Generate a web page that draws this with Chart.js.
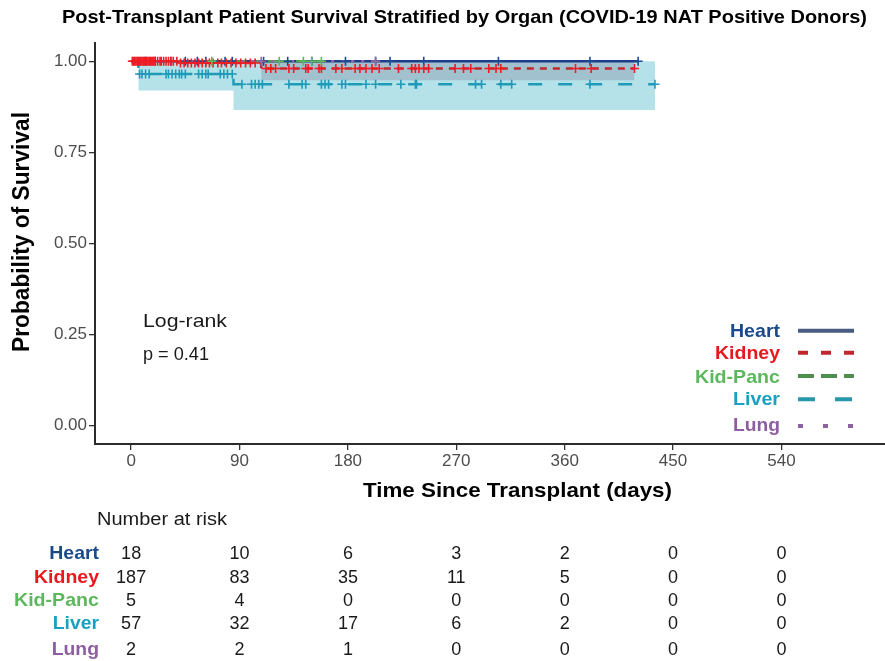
<!DOCTYPE html>
<html>
<head>
<meta charset="utf-8">
<script src="https://cdn.jsdelivr.net/npm/chart.js@4.4.1/dist/chart.umd.min.js"></script>
<style>
    html, body { margin: 0; padding: 0; background: #fff; }
    #wrap { width: 885px; height: 661px; }
</style>
</head>
<body>
<div id="wrap"><canvas id="kmChart" width="885" height="661"></canvas></div>
<script>
// Axis ticks
const timeTicks = [0, 90, 180, 270, 360, 450, 540];
const survTicks = [0, 0.25, 0.5, 0.75, 1];

// Kaplan-Meier steps (time in days, survival after the step)
const heartTime = [0, 421];
const heartSurv = [1, 1];
const kidneyTime = [0, 40, 108, 418];
const kidneySurv = [1, 0.995, 0.98, 0.98];
const kidPancTime = [0, 158];
const kidPancSurv = [1, 1];
const liverTime = [0, 6, 85, 435];
const liverSurv = [1, 0.965, 0.937, 0.937];
const lungTime = [0, 203];
const lungSurv = [1, 1];

// Confidence bands (upper bound sits at 1.00)
const kidneyBandTime = [108, 418];
const kidneyBandLower = [0.948, 0.948];
const liverBandTime = [6, 85, 435];
const liverBandLower = [0.92, 0.866, 0.866];

// Censoring times
const heartCensor = [12, 20, 33, 45, 55, 62, 78, 84, 110, 130, 150, 178, 203, 215, 243, 305, 381, 421];
const kidneyCensor = [1, 2, 3, 4, 5, 6, 7, 8, 9, 10, 11, 12, 13, 14, 15, 16, 17, 18, 19, 20, 22, 24, 25, 27, 29,
    31, 33, 35, 38, 41, 44, 47, 50, 53, 56, 59, 62, 65, 68, 72, 75, 79, 83, 87, 91, 95, 99, 103,
    112, 116, 120, 131, 135, 145, 147, 156, 158, 170, 175, 186, 190, 195, 200, 206,
    222, 233, 236, 239, 243, 247, 269, 276, 282, 297, 303, 307, 369, 382, 418];
const kidPancCensor = [67, 123, 143, 150, 158];
const liverCensor = [7, 9, 12, 15, 29, 31, 34, 37, 40, 42, 45, 56, 59, 62, 64, 74, 77, 80, 84,
    92, 100, 103, 106, 109, 131, 142, 145, 158, 161, 164, 175, 178, 195, 203,
    224, 236, 237, 286, 291, 307, 316, 381, 435];
const lungCensor = [108, 203];

// Number at risk at each time tick
const riskHeart = [18, 10, 6, 3, 2, 0, 0];
const riskKidney = [187, 83, 35, 11, 5, 0, 0];
const riskKidPanc = [5, 4, 0, 0, 0, 0, 0];
const riskLiver = [57, 32, 17, 6, 2, 0, 0];
const riskLung = [2, 2, 1, 0, 0, 0, 0];

const organs = [
    { name: 'Heart', time: heartTime, surv: heartSurv, censor: heartCensor, risk: riskHeart,
      line: '#1d3f8a', mark: '#1d4a94', label: '#1a4a8a', key: '#4a5b82', dash: [], keyDash: [] },
    { name: 'Kidney', time: kidneyTime, surv: kidneySurv, censor: kidneyCensor, risk: riskKidney,
      line: '#c0282e', mark: '#ee1c24', label: '#e8191e', key: '#c0282e', dash: [7, 6], keyDash: [10, 13] },
    { name: 'Kid-Panc', time: kidPancTime, surv: kidPancSurv, censor: kidPancCensor, risk: riskKidPanc,
      line: '#4a9e48', mark: '#5cb85c', label: '#5cb85c', key: '#4e8f4e', dash: [10, 5], keyDash: [16, 7] },
    { name: 'Liver', time: liverTime, surv: liverSurv, censor: liverCensor, risk: riskLiver,
      line: '#1f9bb8', mark: '#1f9bb8', label: '#1aa0c0', key: '#2797ab', dash: [14, 16], keyDash: [17, 20] },
    { name: 'Lung', time: lungTime, surv: lungSurv, censor: lungCensor, risk: riskLung,
      line: '#9467a8', mark: '#9467a8', label: '#8e5ea2', key: '#8d62a0', dash: [3, 7], keyDash: [5, 20] }
];

const FONT = "'Liberation Sans', Arial, Helvetica, sans-serif";
Chart.defaults.font.family = FONT;

function survAt(times, surv, t) {
    let s = surv[0];
    for (let i = 0; i < times.length; i++) {
        if (times[i] <= t) s = surv[i];
    }
    return s;
}

function toPoints(xs, ys) {
    return xs.map((x, i) => ({ x: x, y: ys[i] }));
}

function bandDataset(times, lower, color) {
    return {
        data: toPoints(times, lower),
        stepped: true,
        borderColor: 'rgba(0,0,0,0)',
        borderWidth: 0,
        backgroundColor: color,
        pointRadius: 0,
        fill: { value: 1 },
        order: 10
    };
}

function buildDatasets() {
    const sets = [];
    sets.push(bandDataset(liverBandTime, liverBandLower, 'rgba(120, 200, 215, 0.55)'));
    sets.push(bandDataset(kidneyBandTime, kidneyBandLower, 'rgba(150, 80, 110, 0.4)'));

    organs.forEach((o, i) => {
        sets.push({
            data: toPoints(o.time, o.surv),
            stepped: true,
            borderColor: o.line,
            borderWidth: 2.5,
            borderDash: o.dash,
            pointRadius: 0,
            fill: false,
            order: 5 + (organs.length - i) * 0.1
        });
    });

    organs.forEach((o, i) => {
        sets.push({
            data: o.censor.map(t => ({ x: t, y: survAt(o.time, o.surv, t) })),
            showLine: false,
            pointStyle: 'cross',
            pointRadius: 4.5,
            pointBorderWidth: 1.6,
            pointBorderColor: o.mark,
            pointBackgroundColor: o.mark,
            order: 1 + (organs.length - i) * 0.1
        });
    });
    return sets;
}

// Text helper: draws at an alphabetic baseline, squeezed to a target width if given
function drawText(ctx, text, x, y, opts) {
    ctx.save();
    ctx.font = opts.font;
    ctx.fillStyle = opts.color || '#000';
    ctx.textBaseline = 'alphabetic';
    ctx.textAlign = opts.align || 'left';
    ctx.translate(x, y);
    if (opts.rotate) ctx.rotate(-Math.PI / 2);
    if (opts.width) {
        const w = ctx.measureText(text).width;
        ctx.scale(opts.width / w, 1);
    }
    ctx.fillText(text, 0, 0);
    ctx.restore();
}

const decorPlugin = {
    id: 'decor',
    afterDraw(chart) {
        const ctx = chart.ctx;
        const xScale = chart.scales.x;

        // Title and axis titles
        drawText(ctx, 'Post-Transplant Patient Survival Stratified by Organ (COVID-19 NAT Positive Donors)',
            464.5, 23, { font: 'bold 19px ' + FONT, align: 'center', width: 805, color: '#000' });
        drawText(ctx, 'Time Since Transplant (days)', 517.5, 497,
            { font: 'bold 21px ' + FONT, align: 'center', width: 309, color: '#000' });
        drawText(ctx, 'Probability of Survival', 28.5, 232,
            { font: 'bold 23px ' + FONT, align: 'center', width: 240, color: '#000', rotate: true });

        // Log-rank annotation
        drawText(ctx, 'Log-rank', 143, 326.5, { font: '19px ' + FONT, width: 84, color: '#1a1a1a' });
        drawText(ctx, 'p = 0.41', 143, 360, { font: '19px ' + FONT, width: 66, color: '#1a1a1a' });

        // Legend
        const keyBase = [336.7, 359.3, 382.7, 405, 430.7];
        const keyLineY = [330.7, 352.7, 376, 399.3, 426];
        const keyWidth = [50, 65, 85, 47, 47];
        organs.forEach((o, i) => {
            drawText(ctx, o.name, 780, keyBase[i],
                { font: 'bold 19px ' + FONT, align: 'right', width: keyWidth[i], color: o.label });
            ctx.save();
            ctx.strokeStyle = o.key;
            ctx.lineWidth = 4;
            ctx.lineCap = 'butt';
            ctx.setLineDash(o.keyDash);
            ctx.beginPath();
            ctx.moveTo(798, keyLineY[i]);
            ctx.lineTo(854, keyLineY[i]);
            ctx.stroke();
            ctx.restore();
        });

        // Number at risk table
        drawText(ctx, 'Number at risk', 97, 525, { font: '18px ' + FONT, width: 130, color: '#1a1a1a' });
        const rowBase = [559.3, 582.7, 606, 629.3, 655];
        const rowWidth = [49.7, 65, 85, 46.3, 47.3];
        organs.forEach((o, i) => {
            drawText(ctx, o.name, 99, rowBase[i],
                { font: 'bold 19px ' + FONT, align: 'right', width: rowWidth[i], color: o.label });
            o.risk.forEach((n, j) => {
                const px = xScale.getPixelForValue(timeTicks[j]);
                drawText(ctx, String(n), px, rowBase[i], { font: '18px ' + FONT, align: 'center', color: '#1a1a1a' });
            });
        });
    }
};

function renderChart() {
    const ctx = document.getElementById('kmChart').getContext('2d');
    new Chart(ctx, {
        type: 'line',
        data: { datasets: buildDatasets() },
        options: {
            responsive: false,
            animation: false,
            devicePixelRatio: 1,
            layout: { autoPadding: false, padding: { top: 43, left: 0, right: 0, bottom: 0 } },
            plugins: {
                legend: { display: false },
                tooltip: { enabled: false },
                title: { display: false }
            },
            scales: {
                x: {
                    type: 'linear',
                    min: -30,
                    max: 626,
                    afterBuildTicks: (scale) => { scale.ticks = timeTicks.map(v => ({ value: v })); },
                    afterFit: (scale) => {
                        scale.height = 217;
                        scale.paddingLeft = 0;
                        scale.paddingRight = 0;
                    },
                    grid: { drawOnChartArea: false, drawTicks: true, tickLength: 6, color: '#333', lineWidth: 1.3 },
                    border: { display: true, color: '#2b2b2b', width: 2 },
                    ticks: { color: '#4d4d4d', font: { size: 17 }, padding: 1, maxRotation: 0 }
                },
                y: {
                    type: 'linear',
                    min: -0.05,
                    max: 1.05,
                    afterBuildTicks: (scale) => { scale.ticks = survTicks.map(v => ({ value: v })); },
                    afterFit: (scale) => {
                        scale.width = 95;
                        scale.paddingTop = 0;
                        scale.paddingBottom = 0;
                    },
                    grid: { drawOnChartArea: false, drawTicks: true, tickLength: 6, color: '#333', lineWidth: 1.3 },
                    border: { display: true, color: '#2b2b2b', width: 2 },
                    ticks: { color: '#4d4d4d', font: { size: 17 }, padding: 2, callback: (v) => v.toFixed(2) }
                }
            }
        },
        plugins: [decorPlugin]
    });
}

document.addEventListener('DOMContentLoaded', renderChart);
</script>
</body>
</html>
